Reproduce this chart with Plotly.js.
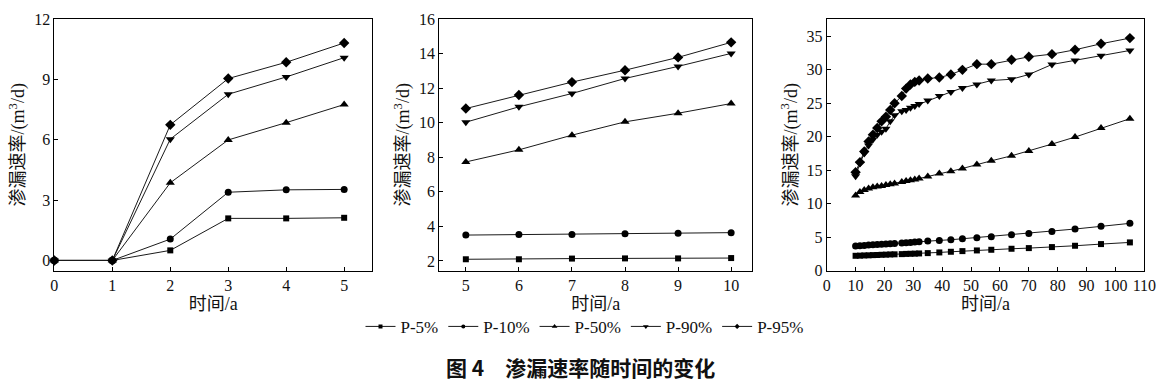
<!DOCTYPE html>
<html>
<head>
<meta charset="utf-8">
<script src="https://cdn.plot.ly/plotly-3.0.1.min.js"></script>
<style>html,body{margin:0;padding:0;background:#fff;}#chart{width:1169px;height:385px;}</style>
</head>
<body>
<div id="chart"></div>
<script>
// Panel 1: 0-5 a
const t1 = [0, 1, 2, 3, 4, 5];
const p1_5  = [0, 0, 0.5, 2.09, 2.09, 2.12];
const p1_10 = [0, 0, 1.06, 3.39, 3.51, 3.53];
const p1_50 = [0, 0, 3.86, 5.99, 6.85, 7.75];
const p1_90 = [0, 0, 6.03, 8.26, 9.12, 10.08];
const p1_95 = [0, 0, 6.74, 9.04, 9.85, 10.81];

// Panel 2: 5-10 a
const t2 = [5, 6, 7, 8, 9, 10];
const p2_5  = [2.1, 2.1, 2.14, 2.15, 2.15, 2.17];
const p2_10 = [3.5, 3.53, 3.54, 3.58, 3.6, 3.64];
const p2_50 = [7.73, 8.43, 9.28, 10.05, 10.55, 11.11];
const p2_90 = [10.03, 10.92, 11.69, 12.56, 13.26, 14.01];
const p2_95 = [10.82, 11.6, 12.35, 13.04, 13.78, 14.65];

// Panel 3: 10-105 a
const t3 = [10, 11.5, 13, 14.5, 16, 17.5, 19, 20.5, 22, 23.5, 26, 27.5, 29, 30.5, 32, 35, 39, 43, 47, 52, 57, 64, 70, 78, 86, 95, 105];
const p3_5  = [2.2, 2.22, 2.25, 2.27, 2.3, 2.32, 2.35, 2.37, 2.4, 2.42, 2.45, 2.48, 2.5, 2.52, 2.55, 2.6, 2.7, 2.8, 2.9, 3.0, 3.1, 3.25, 3.35, 3.5, 3.7, 3.95, 4.2];
const p3_10 = [3.65, 3.7, 3.75, 3.8, 3.85, 3.9, 3.93, 3.97, 4.0, 4.05, 4.1, 4.15, 4.2, 4.25, 4.3, 4.4, 4.5, 4.6, 4.75, 4.9, 5.05, 5.35, 5.55, 5.85, 6.2, 6.6, 7.05];
const p3_50 = [11.2, 11.75, 12.05, 12.25, 12.45, 12.55, 12.65, 12.8, 12.9, 13.0, 13.25, 13.4, 13.5, 13.6, 13.75, 14.05, 14.5, 14.85, 15.25, 15.85, 16.4, 17.15, 17.85, 18.9, 19.95, 21.3, 22.7];
const p3_90 = [14.1, 16.0, 17.5, 18.7, 19.6, 20.3, 20.75, 21.2, 22.3, 23.2, 23.8, 24.0, 24.35, 24.6, 24.9, 25.4, 26.1, 26.7, 27.3, 27.8, 28.4, 28.6, 29.3, 30.8, 31.4, 32.1, 32.9];
const p3_95 = [14.7, 16.2, 17.8, 19.3, 20.3, 21.3, 22.3, 23.0, 24.0, 25.0, 26.1, 27.2, 27.8, 28.2, 28.4, 28.7, 28.85, 29.3, 30.0, 30.85, 30.85, 31.5, 31.95, 32.35, 33.0, 33.9, 34.75];

const seriesNames = ['P-5%', 'P-10%', 'P-50%', 'P-90%', 'P-95%'];
const symbols = ['square', 'circle', 'triangle-up', 'triangle-down', 'diamond'];
const msizes = [6, 7, 8, 8, 8];
const legendSizes = [4, 4, 5, 5, 4];

const panels = [
  {x: t1, ys: [p1_5, p1_10, p1_50, p1_90, p1_95], xa: 'x', ya: 'y'},
  {x: t2, ys: [p2_5, p2_10, p2_50, p2_90, p2_95], xa: 'x2', ya: 'y2'},
  {x: t3, ys: [p3_5, p3_10, p3_50, p3_90, p3_95], xa: 'x3', ya: 'y3'}
];

const traces = [];
panels.forEach((p, pi) => {
  p.ys.forEach((y, si) => {
    traces.push({
      type: 'scatter', mode: 'lines+markers',
      x: p.x, y: y, xaxis: p.xa, yaxis: p.ya,
      name: seriesNames[si], showlegend: false,
      line: {color: '#1a1a1a', width: 1},
      marker: {symbol: symbols[si], size: msizes[si], color: '#000'},
      cliponaxis: false
    });
  });
});
// legend entries (small markers, as in the reference legend)
seriesNames.forEach((n, si) => {
  traces.push({
    type: 'scatter', mode: 'lines+markers', x: [null], y: [null],
    xaxis: 'x', yaxis: 'y', name: n, showlegend: true,
    line: {color: '#1a1a1a', width: 1},
    marker: {symbol: symbols[si], size: legendSizes[si], color: '#000'}
  });
});

const FONT = 'Liberation Serif, Times New Roman, Noto Sans CJK SC, serif';
const CJK = 'Noto Sans CJK SC, sans-serif';

function axis(domain, range, dtick, tick0, anchor) {
  return {
    domain: domain, range: range, dtick: dtick, tick0: tick0, anchor: anchor,
    showline: true, mirror: true, linecolor: '#000', linewidth: 1,
    ticks: 'inside', ticklen: 4, tickcolor: '#000', tickwidth: 1,
    showgrid: false, zeroline: false,
    tickfont: {family: FONT, size: 16, color: '#111'}
  };
}

const ydom = [0.2974, 0.9506];
const xt = {text: '时间/a', font: {family: FONT, size: 18, color: '#111'}, standoff: 4};
const yt = {text: '渗漏速率/(m<sup>3</sup>/d)', font: {family: FONT, size: 18, color: '#111'}, standoff: 4};

const layout = {
  width: 1169, height: 385,
  margin: {l: 0, r: 0, t: 0, b: 0},
  paper_bgcolor: '#fff', plot_bgcolor: '#fff',
  font: {family: FONT, color: '#111'},
  xaxis:  Object.assign(axis([0.0465, 0.3182], [0, 5.48], 1, 0, 'y'), {title: xt}),
  yaxis:  Object.assign(axis(ydom, [-0.5, 12], 3, 0, 'x'), {title: yt}),
  xaxis2: Object.assign(axis([0.3758, 0.6436], [4.5, 10.4], 1, 5, 'y2'), {title: xt}),
  yaxis2: Object.assign(axis(ydom, [1.45, 16], 2, 2, 'x2'), {title: yt}),
  xaxis3: Object.assign(axis([0.7072, 0.9789], [0, 110], 10, 0, 'y3'), {title: xt}),
  yaxis3: Object.assign(axis(ydom, [0, 37.6], 5, 0, 'x3'), {title: yt}),
  showlegend: true,
  legend: {
    orientation: 'h', x: 0.5, xanchor: 'center', y: 0.151, yanchor: 'middle',
    font: {family: FONT, size: 17, color: '#111'}, itemwidth: 30,
    bgcolor: 'rgba(0,0,0,0)'
  },
  annotations: [{
    text: '<b>图 4　渗漏速率随时间的变化</b>',
    xref: 'paper', yref: 'paper', x: 0.497, y: 1 - 367/385,
    xanchor: 'center', yanchor: 'middle', showarrow: false,
    font: {family: CJK, size: 21, color: '#111'}
  }]
};

Plotly.newPlot('chart', traces, layout, {displayModeBar: false, staticPlot: true});
</script>
</body>
</html>
